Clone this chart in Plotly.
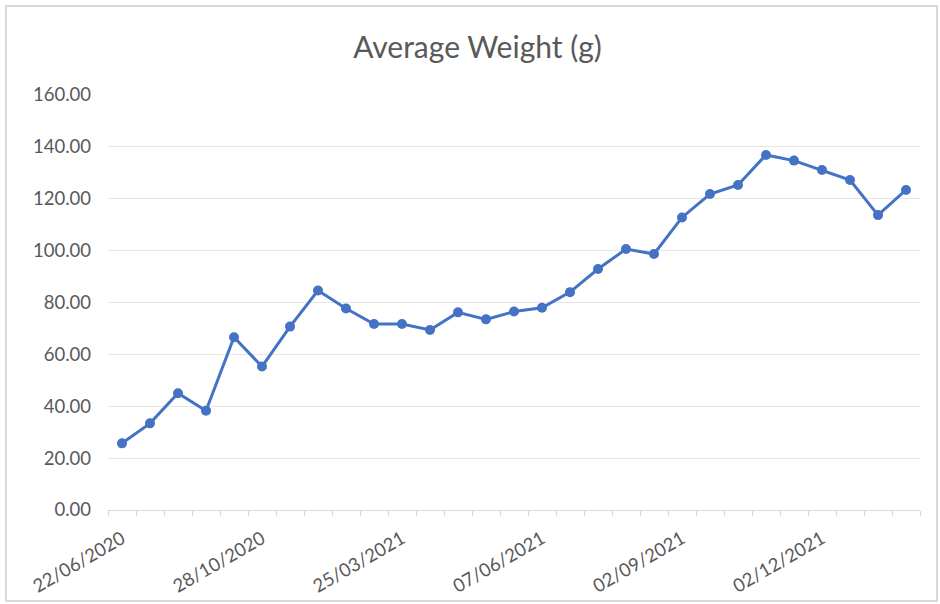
import plotly.graph_objects as go

# Data (category axis, 29 observations; only every 5th date label is shown)
weights = [25.7, 33.4, 45.0, 38.3, 66.6, 55.3, 70.7, 84.6, 77.7, 71.7,
           71.7, 69.4, 76.2, 73.5, 76.5, 78.0, 84.0, 92.9, 100.6, 98.7,
           112.8, 121.8, 125.3, 136.9, 134.7, 131.1, 127.2, 113.7, 123.4]
label_positions = [0, 5, 10, 15, 20, 25]
date_labels = ["22/06/2020", "28/10/2020", "25/03/2021", "07/06/2021", "02/09/2021", "02/12/2021"]
y_ticks = [0, 20, 40, 60, 80, 100, 120, 140, 160]

x_idx = list(range(len(weights)))

W, H = 940, 604
L, R, T, B = 108, 20, 95, 94
pw, ph = W - L - R, H - T - B

fig = go.Figure()
fig.add_trace(go.Scatter(
    x=x_idx, y=weights, mode="lines+markers",
    line=dict(color="#4472C4", width=3),
    marker=dict(color="#4472C4", size=10),
    hoverinfo="y",
))

gray = "#595959"
FONT = "Lato, Open Sans, sans-serif"
fig.update_layout(
    width=W, height=H,
    margin=dict(l=L, r=R, t=T, b=B, autoexpand=False),
    paper_bgcolor="white", plot_bgcolor="white",
    showlegend=False,
    font=dict(family=FONT, color=gray, size=18),
    title=dict(text="Average Weight (g)", x=0.508, xanchor="center",
               y=1 - 47 / H, yanchor="middle",
               font=dict(size=30, color=gray, family=FONT)),
)
fig.update_xaxes(
    automargin=False,
    range=[-0.5, len(weights) - 0.5],
    tickmode="array", tickvals=label_positions, ticktext=date_labels,
    tickangle=-30, ticks="", ticklabelstandoff=10,
    showgrid=False, zeroline=False,
    showline=True, linecolor="#d9d9d9", linewidth=1,
    tickfont=dict(size=18.5, color=gray),
    minor=dict(tickmode="array",
               tickvals=[i - 0.5 for i in range(len(weights) + 1)],
               ticks="outside", ticklen=5, tickcolor="#d9d9d9", tickwidth=1,
               showgrid=False),
)
fig.update_yaxes(
    automargin=False,
    range=[0, 160], tickmode="array", tickvals=y_ticks, tickformat=".2f",
    showgrid=True, gridcolor="#e6e6e6", gridwidth=1,
    zeroline=False, showline=False, ticks="", ticklabelstandoff=16,
    tickfont=dict(size=18.5, color=gray),
)
# chart-area border
fig.add_shape(type="rect", xref="paper", yref="paper",
              x0=(6 - L) / pw, x1=(937 - L) / pw,
              y0=(H - B - 601) / ph, y1=(H - B - 6) / ph,
              line=dict(color="#d9d9d9", width=2), layer="below")

fig.write_html("out.html", config={"displayModeBar": False},
               post_script="document.body.style.margin='0';")
